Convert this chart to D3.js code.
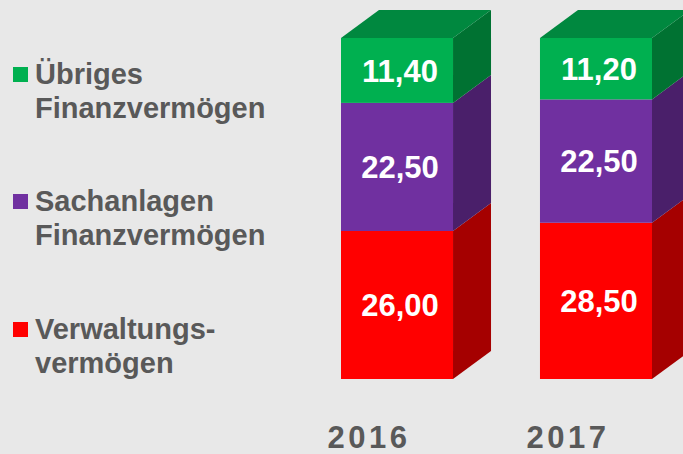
<!DOCTYPE html>
<html>
<head>
<meta charset="utf-8">
<script src="https://cdn.jsdelivr.net/npm/d3@7"></script>
<style>
  html, body { margin: 0; padding: 0; background: #e8e8e8; }
  svg { display: block; font-family: "Liberation Sans", Arial, sans-serif; }
</style>
</head>
<body>
<div id="chart"></div>
<script>
// data
var years = ['2016', '2017'];
var seriesKeys = ['verwaltung', 'sachanlagen', 'uebriges'];
var verwaltung = [26.00, 28.50];
var sachanlagen = [22.50, 22.50];
var uebriges = [11.40, 11.20];
var legendLabels = [
  ['Übriges', 'Finanzvermögen'],
  ['Sachanlagen', 'Finanzvermögen'],
  ['Verwaltungs-', 'vermögen']
];

var W = 683, H = 454;
var svg = d3.select("#chart").append("svg").attr("width", W).attr("height", H);
svg.append("rect").attr("width", W).attr("height", H).attr("fill", "#e8e8e8");

// colours per series: front, side, top
var colors = {
  verwaltung:  { front: "#ff0000", side: "#a50000", top: "#c00000" },
  sachanlagen: { front: "#7030a0", side: "#4a1f6a", top: "#5a2680" },
  uebriges:    { front: "#00b050", side: "#007232", top: "#00883f" }
};

var rows = years.map(function (y, i) {
  return { year: y, verwaltung: verwaltung[i], sachanlagen: sachanlagen[i], uebriges: uebriges[i] };
});

// 100% stacked
var stacked = d3.stack().keys(seriesKeys).offset(d3.stackOffsetExpand)(rows);

var x = d3.scaleBand().domain(years).range([341, 652]).paddingInner(0.437).paddingOuter(0);
var y = d3.scaleLinear().domain([0, 1]).range([379, 38]);
var dx = 38, dy = -28;   // depth of the 3d boxes
var fmt = function (v) { return d3.format(".2f")(v).replace(".", ","); };

var g = svg.append("g");

stacked.forEach(function (layer, li) {
  var key = layer.key;
  layer.forEach(function (d) {
    var x0 = x(d.data.year), x1 = x0 + x.bandwidth();
    var yb = y(d[0]), yt = y(d[1]);
    // side face
    g.append("path")
      .attr("d", "M" + x1 + "," + yb + "L" + (x1 + dx) + "," + (yb + dy) +
                 "L" + (x1 + dx) + "," + (yt + dy) + "L" + x1 + "," + yt + "Z")
      .attr("fill", colors[key].side);
    // front face
    g.append("rect")
      .attr("x", x0).attr("y", yt)
      .attr("width", x.bandwidth()).attr("height", yb - yt)
      .attr("fill", colors[key].front);
    // top face only for the topmost series
    if (li === stacked.length - 1) {
      g.append("path")
        .attr("d", "M" + x0 + "," + yt + "L" + (x0 + dx) + "," + (yt + dy) +
                   "L" + (x1 + dx) + "," + (yt + dy) + "L" + x1 + "," + yt + "Z")
        .attr("fill", colors[key].top);
    }
    // value label
    g.append("text")
      .attr("x", x0 + x.bandwidth() / 2 + 3)
      .attr("y", (yb + yt) / 2)
      .attr("dy", "0.36em")
      .attr("text-anchor", "middle")
      .attr("fill", "#ffffff")
      .style("font-size", "31px")
      .style("font-weight", "bold")
      .text(fmt(d.data[key]));
  });
});

// year labels
svg.selectAll(".year").data(years).enter().append("text")
  .attr("class", "year")
  .attr("x", function (d) { return x(d) + x.bandwidth() / 2 - 28; })
  .attr("y", 448)
  .attr("text-anchor", "middle")
  .attr("fill", "#595959")
  .style("font-size", "31px")
  .style("font-weight", "bold")
  .style("letter-spacing", "3.5px")
  .text(function (d) { return d; });

// legend
var legendKeys = ['uebriges', 'sachanlagen', 'verwaltung'];
var legendTop = [67, 194, 322];
legendKeys.forEach(function (k, i) {
  var lg = svg.append("g").attr("transform", "translate(13," + legendTop[i] + ")");
  lg.append("rect").attr("width", 15).attr("height", 15).attr("fill", colors[k].front);
  legendLabels[i].forEach(function (line, j) {
    lg.append("text")
      .attr("x", 22)
      .attr("y", 17 + j * 34)
      .attr("fill", "#595959")
      .style("font-size", "29px")
      .style("font-weight", "bold")
      .text(line);
  });
});
</script>
</body>
</html>
